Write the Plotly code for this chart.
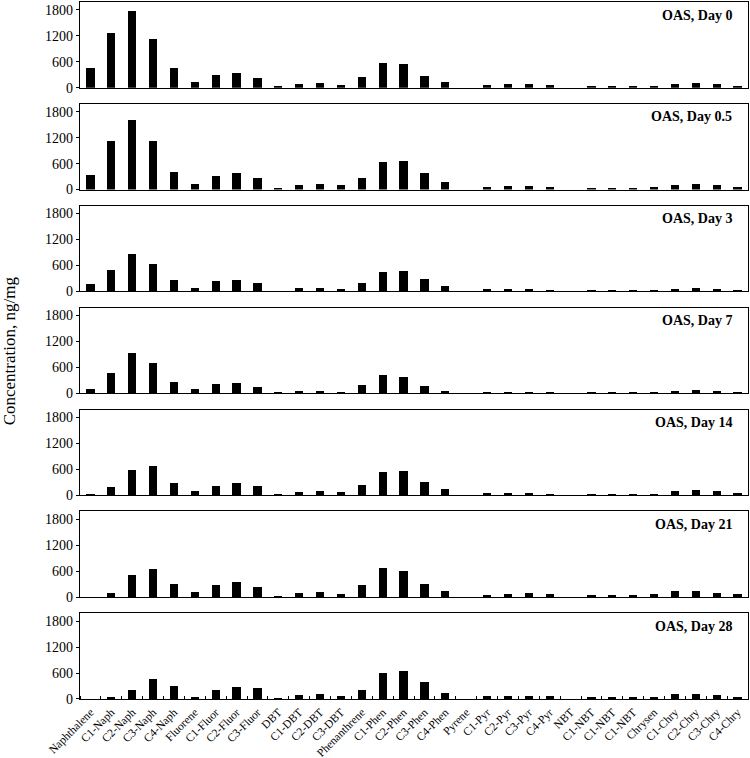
import plotly.graph_objects as go
from plotly.subplots import make_subplots

# ---- data ----------------------------------------------------------------
compounds = [
    "Naphthalene", "C1-Naph", "C2-Naph", "C3-Naph", "C4-Naph",
    "Fluorene", "C1-Fluor", "C2-Fluor", "C3-Fluor",
    "DBT", "C1-DBT", "C2-DBT", "C3-DBT",
    "Phenanthrene", "C1-Phen", "C2-Phen", "C3-Phen", "C4-Phen",
    "Pyrene", "C1-Pyr", "C2-Pyr", "C3-Pyr", "C4-Pyr",
    "NBT", "C1-NBT", "C1-NBT", "C1-NBT",
    "Chrysen", "C1-Chry", "C2-Chry", "C3-Chry", "C4-Chry",
]

day_0 = [450, 1265, 1761, 1117, 450, 140, 295, 341, 225, 30, 93, 109, 62,
         248, 574, 543, 279, 140, 0, 54, 78, 85, 62, 0, 31, 31, 25,
         47, 93, 109, 93, 39]
day_0_5 = [345, 1135, 1604, 1127, 415, 125, 321, 376, 266, 31, 102, 141, 102,
           274, 642, 673, 376, 180, 0, 63, 78, 78, 55, 0, 39, 39, 39,
           63, 110, 125, 102, 63]
day_3 = [174, 500, 872, 650, 278, 95, 238, 270, 198, 16, 79, 95, 63,
         206, 460, 484, 301, 127, 0, 55, 55, 55, 40, 0, 24, 32, 24,
         32, 71, 87, 63, 40]
day_7 = [101, 489, 931, 706, 279, 101, 217, 248, 147, 23, 54, 70, 47,
         202, 430, 390, 178, 70, 0, 30, 38, 47, 30, 0, 20, 20, 20,
         30, 55, 75, 55, 30]
day_14 = [47, 205, 584, 687, 284, 110, 213, 292, 221, 24, 79, 110, 79,
          237, 552, 576, 324, 150, 0, 55, 55, 71, 47, 0, 32, 39, 32,
          47, 110, 126, 103, 55]
day_21 = [0, 86, 495, 645, 291, 110, 275, 346, 220, 16, 86, 110, 71,
          267, 652, 605, 299, 134, 0, 47, 71, 79, 55, 0, 39, 39, 39,
          63, 126, 126, 94, 63]
day_28 = [0, 31, 211, 446, 305, 47, 203, 282, 243, 8, 78, 110, 70,
          211, 595, 634, 376, 141, 0, 55, 63, 70, 55, 0, 31, 39, 23,
          47, 102, 110, 86, 47]

panels = [
    ("OAS, Day 0", day_0),
    ("OAS, Day 0.5", day_0_5),
    ("OAS, Day 3", day_3),
    ("OAS, Day 7", day_7),
    ("OAS, Day 14", day_14),
    ("OAS, Day 21", day_21),
    ("OAS, Day 28", day_28),
]
y_ticks = [0, 600, 1200, 1800]

SERIF = "Liberation Serif, Times New Roman, serif"
positions = list(range(len(compounds)))
n_rows = len(panels)

# ---- figure --------------------------------------------------------------
fig = make_subplots(rows=n_rows, cols=1, vertical_spacing=0.0232)

for i, (label, values) in enumerate(panels, start=1):
    fig.add_trace(
        go.Bar(x=positions, y=values, width=0.4, marker_color="black",
               marker_line_width=0, showlegend=False, hoverinfo="skip"),
        row=i, col=1,
    )
    fig.add_annotation(
        text=f"<b>{label}</b>", xref="x domain", yref="y domain",
        x=0.979, y=0.848, xanchor="right", yanchor="middle", showarrow=False,
        font=dict(family=SERIF, size=14, color="black"),
        row=i, col=1,
    )
    fig.update_yaxes(
        range=[0, 1980], tickvals=y_ticks, ticks="outside", ticklen=3,
        tickcolor="black", showgrid=False, zeroline=False, automargin=False,
        showline=True, linecolor="black", linewidth=1.2, mirror=True,
        tickfont=dict(family=SERIF, size=14, color="black"),
        row=i, col=1,
    )
    bottom = i == n_rows
    fig.update_xaxes(
        range=[-0.5, len(compounds) - 0.5], showgrid=False, zeroline=False,
        showline=True, linecolor="black", linewidth=1.2, mirror=True,
        automargin=False, tickmode="array", tickvals=positions,
        ticktext=compounds if bottom else [""] * len(compounds),
        ticks="", showticklabels=bottom, tickangle=-45,
        tickfont=dict(family=SERIF, size=11.5, color="black"),
        row=i, col=1,
    )

# boundary ticks on the bottom panel only
fig.update_xaxes(
    ticklabelstandoff=1,
    minor=dict(tickmode="linear", tick0=0.5, dtick=1, ticks="inside",
               ticklen=3, tickcolor="black", showgrid=False),
    row=n_rows, col=1,
)

fig.add_annotation(
    text="Concentration, ng/mg", xref="paper", yref="paper",
    x=-0.105, y=0.5, xanchor="center", yanchor="middle",
    textangle=-90, showarrow=False,
    font=dict(family=SERIF, size=17, color="black"),
)

fig.update_layout(
    width=750, height=758,
    margin=dict(l=80, r=2, t=2, b=59),
    plot_bgcolor="white", paper_bgcolor="white",
    bargap=0,
    font=dict(family=SERIF, color="black"),
)

# drop the browser's default body margin so the figure sits at the page corner
fig.write_html("out.html", config={"displayModeBar": False},
               post_script="document.body.style.margin='0';")
